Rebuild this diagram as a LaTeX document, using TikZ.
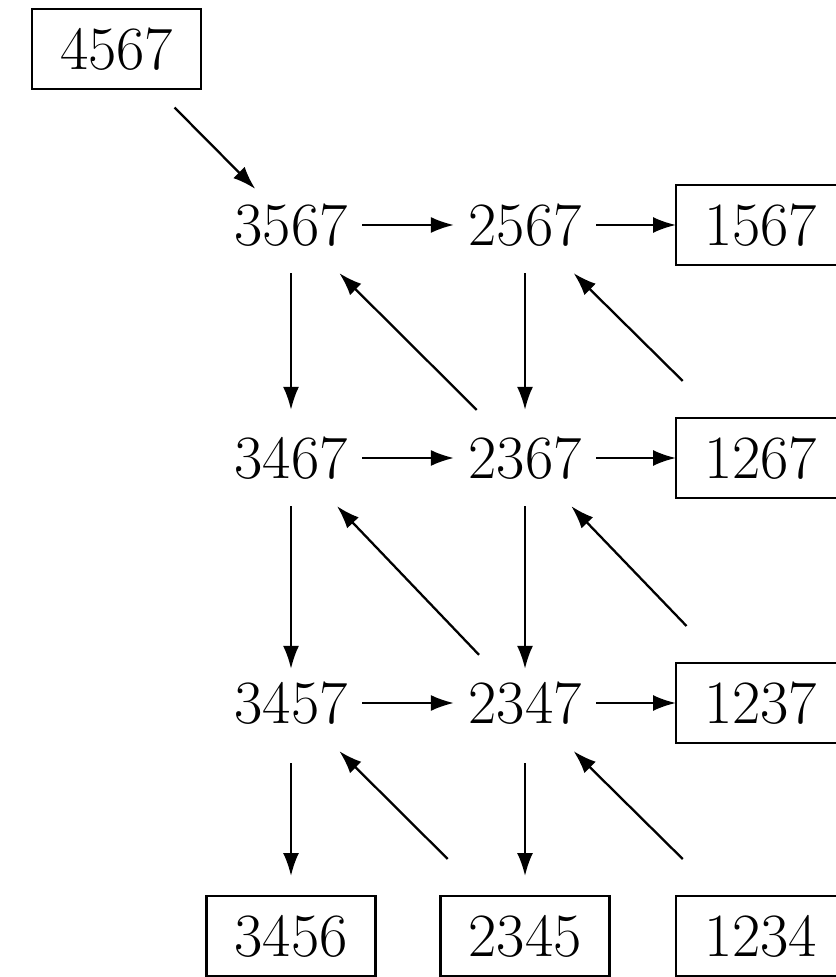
\documentclass[tikz,border=0pt]{standalone}
\usepackage{tikz}
\usetikzlibrary{arrows.meta}

\begin{document}
\begin{tikzpicture}[>={Latex[length=2.3mm,width=1.6mm]}, line width=0.65pt,
  font=\fontsize{17.5}{21}\selectfont,
  num/.style={inner sep=0pt, minimum width=14mm, minimum height=9.4mm},
  fin/.style={draw, inner sep=0pt, minimum width=16.9mm, minimum height=8mm,
              outer xsep=0pt, outer ysep=3.7mm}]
  \useasboundingbox (0,0) rectangle (8.35,-9.77);
  % start
  \node[fin] (t4567) at (1.165,-0.49) {4567};
  % grid
  \node[num] (n3567) at (2.91,-2.25) {3567};
  \node[num] (n2567) at (5.25,-2.25) {2567};
  \node[fin] (b1567) at (7.605,-2.25) {1567};
  \node[num] (n3467) at (2.91,-4.58) {3467};
  \node[num] (n2367) at (5.25,-4.58) {2367};
  \node[fin] (b1267) at (7.605,-4.58) {1267};
  \node[num] (n3457) at (2.91,-7.03) {3457};
  \node[num] (n2347) at (5.25,-7.03) {2347};
  \node[fin] (b1237) at (7.605,-7.03) {1237};
  \node[fin] (b3456) at (2.91,-9.36) {3456};
  \node[fin] (b2345) at (5.25,-9.36) {2345};
  \node[fin] (b1234) at (7.605,-9.36) {1234};
  % arrows
  \draw[->, shorten <=-2.6mm, shorten >=-1.7mm] (t4567) -- (n3567);
  \draw[->] (n3567) -- (n2567);
  \draw[->] (n2567) -- (b1567);
  \draw[->] (n3467) -- (n2367);
  \draw[->] (n2367) -- (b1267);
  \draw[->] (n3457) -- (n2347);
  \draw[->] (n2347) -- (b1237);
  \draw[->] (n3567) -- (n3467);
  \draw[->] (n2567) -- (n2367);
  \draw[->, shorten >=-1.4mm] (n3467) -- (n3457);
  \draw[->, shorten >=-1.4mm] (n2367) -- (n2347);
  \draw[->, shorten <=1.2mm, shorten >=-1.7mm] (n3457) -- (b3456);
  \draw[->, shorten <=1.2mm, shorten >=-1.7mm] (n2347) -- (b2345);
  \draw[->] (n2367) -- (n3567);
  \draw[->] (b1267) -- (n2567);
  \draw[->] (n2347) -- (n3467);
  \draw[->] (b1237) -- (n2367);
  \draw[->] (b2345) -- (n3457);
  \draw[->] (b1234) -- (n2347);
\end{tikzpicture}
\end{document}
